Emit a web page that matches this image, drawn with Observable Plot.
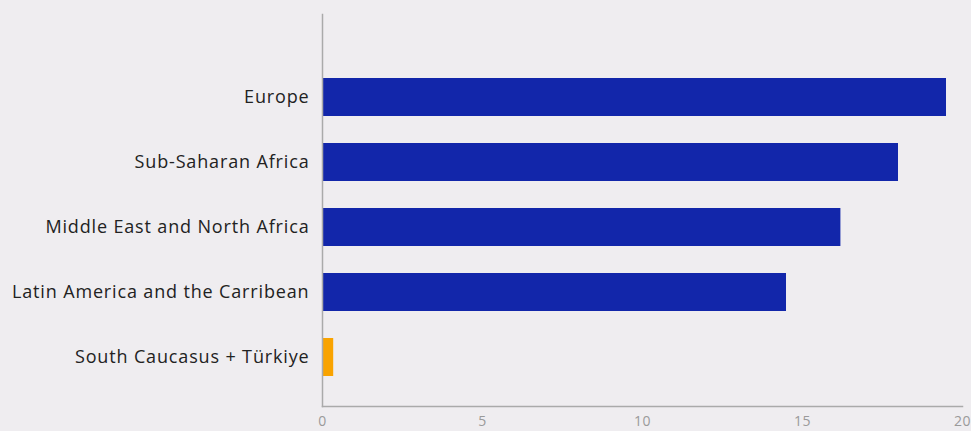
<!DOCTYPE html>
<html>
<head>
<meta charset="utf-8">
<script src="https://cdn.jsdelivr.net/npm/d3@7"></script>
<script src="https://cdn.jsdelivr.net/npm/@observablehq/plot@0.6"></script>
<style>
  html, body { margin: 0; padding: 0; background: #efedf0; }
  #chart { width: 971px; height: 431px; }
  #chart g[aria-label="y-axis tick label"] text { letter-spacing: 0.85px; }
  #chart g[aria-label="x-axis tick label"] text { letter-spacing: 0.5px; }
</style>
</head>
<body>
<div id="chart"></div>
<script>
const regions = [
  "Europe",
  "Sub-Saharan Africa",
  "Middle East and North Africa",
  "Latin America and the Carribean",
  "South Caucasus + Türkiye"
];
const values = [19.5, 18.0, 16.2, 14.5, 0.35];
const highlight = ["South Caucasus + Türkiye"];
const xTicks = [0, 5, 10, 15, 20];

const data = regions.map((r, i) => ({region: r, value: values[i]}));

const chart = Plot.plot({
  width: 971,
  height: 431,
  marginLeft: 322,
  marginRight: 9,
  marginTop: 14,
  marginBottom: 25,
  style: {background: "#efedf0", fontFamily: "'Open Sans', sans-serif", overflow: "visible"},
  x: {domain: [0, 20], ticks: xTicks},
  y: {domain: regions, range: [47, 406], paddingInner: 0.42, paddingOuter: 0.444},
  marks: [
    Plot.barX(data, {
      y: "region",
      x: "value",
      fill: d => highlight.includes(d.region) ? "#f9a300" : "#1226aa"
    }),
    Plot.frame({anchor: "left", stroke: "#aaaaaa", strokeWidth: 1.5}),
    Plot.frame({anchor: "bottom", stroke: "#aaaaaa", strokeWidth: 1.5}),
    Plot.axisY({tickSize: 0, tickPadding: 13, fontSize: 18, color: "#222", label: null}),
    Plot.axisX({ticks: xTicks, tickSize: 0, tickPadding: 10, fontSize: 14, color: "#9a9a9a", label: null})
  ]
});
document.getElementById("chart").appendChild(chart);
</script>
</body>
</html>
